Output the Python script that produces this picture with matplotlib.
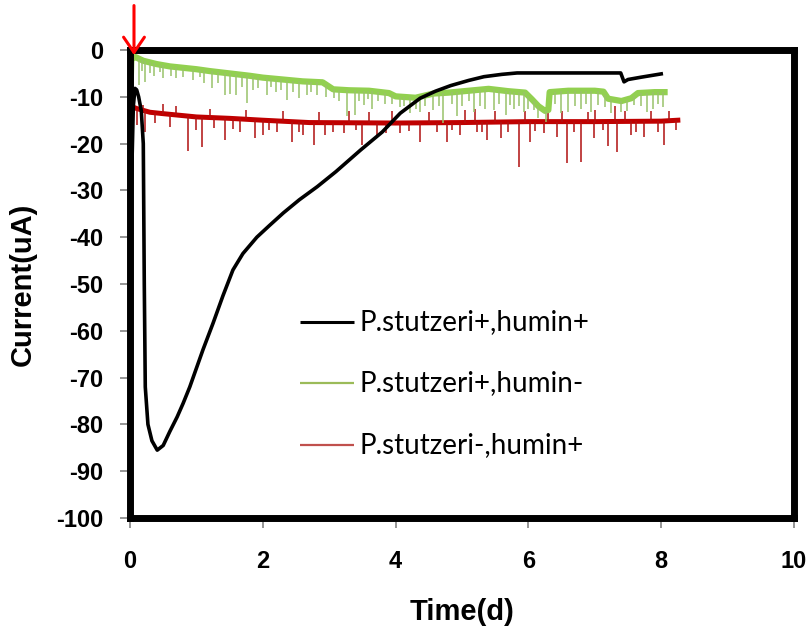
import numpy as np
import matplotlib
matplotlib.use("Agg")
import matplotlib.pyplot as plt

plt.rcParams["axes.unicode_minus"] = False

# --- P.stutzeri+, humin+ (black) ---
t_black = [0.0, 0.02, 0.05, 0.075, 0.1, 0.13, 0.17, 0.2, 0.215, 0.23, 0.27, 0.33,
           0.41, 0.5, 0.6, 0.71, 0.8, 0.9, 1.0, 1.1, 1.25, 1.4, 1.55, 1.7, 1.91,
           2.1, 2.31, 2.55, 2.82, 3.1, 3.47, 3.8, 4.07, 4.37, 4.6, 4.83, 5.1,
           5.33, 5.6, 5.83, 6.5, 7.0, 7.39, 7.44, 7.5, 7.7, 8.0]
i_black = [-49, -30, -12, -8.2, -8.5, -10, -13, -20, -50, -72, -80, -83.5,
           -85.5, -84.5, -81.5, -78.4, -75.5, -72, -68, -64, -58.4, -52.5, -47, -43.5, -40,
           -37.5, -34.8, -32, -29.2, -26.0, -21.4, -17.5, -13.5, -10.3, -8.8, -7.6, -6.5,
           -5.7, -5.2, -4.9, -4.9, -4.9, -4.9, -6.8, -6.3, -5.8, -5.1]

# --- P.stutzeri+, humin- (green): band centre and spikes ---
t_green = [0.0, 0.02, 0.08, 0.2, 0.4, 0.6, 0.8, 1.0, 1.2, 1.5, 1.8, 2.0, 2.3, 2.6,
           2.9, 3.06, 3.3, 3.6, 3.9, 4.0, 4.3, 4.57, 4.8, 5.1, 5.4, 5.7, 5.95, 6.05,
           6.15, 6.25, 6.3, 6.32, 6.6, 7.0, 7.13, 7.2, 7.4, 7.55, 7.65, 7.9, 8.05]
i_green = [-12, -2.0, -1.5, -2.3, -3.0, -3.5, -3.8, -4.1, -4.5, -5.0, -5.5, -5.9, -6.3, -6.7,
           -6.9, -8.4, -8.6, -8.7, -9.2, -9.9, -10.2, -9.3, -9.1, -8.7, -8.3, -8.8, -9.1, -10.5,
           -12.0, -13.0, -12.8, -9.0, -8.7, -8.7, -8.9, -10.4, -10.9, -10.3, -9.2, -9.0, -9.0]
spk_t_green = [0.13, 0.18, 0.23, 0.3, 0.36, 0.45, 0.5, 0.62, 0.7, 0.8, 0.95, 1.05, 1.12,
               1.23, 1.33, 1.43, 1.5, 1.6, 1.68, 1.76, 1.85, 1.93, 2.06, 2.12, 2.2, 2.28,
               2.36, 2.46, 2.54, 2.66, 2.72, 2.82, 2.95, 3.07, 3.15, 3.27, 3.39, 3.45,
               3.52, 3.58, 3.64, 3.74, 3.84, 3.95, 4.07, 4.13, 4.22, 4.3, 4.37, 4.45,
               4.57, 4.65, 4.72, 4.85, 4.92, 5.0, 5.1, 5.18, 5.27, 5.35, 5.48, 5.55,
               5.66, 5.72, 5.78, 5.86, 5.93, 6.0, 6.08, 6.15, 6.26, 6.4, 6.49, 6.59,
               6.7, 6.79, 6.86, 6.94, 7.05, 7.16, 7.25, 7.39, 7.48, 7.59, 7.7, 7.79,
               7.87, 7.95, 8.02]
spk_i_green = [-7.5, -4.5, -6.8, -5.0, -5.5, -4.8, -6.0, -5.5, -6.0, -5.7, -6.5, -5.8, -7.0,
               -8.2, -7.0, -9.6, -9.3, -9.6, -8.0, -11.4, -8.5, -8.2, -9.6, -8.0, -9.0, -8.5,
               -10.7, -9.0, -10.3, -9.6, -9.0, -9.6, -10.0, -10.3, -11.0, -14.2, -13.9, -11.0,
               -11.8, -10.5, -12.5, -11.0, -11.5, -11.5, -12.1, -12.0, -13.5, -12.5, -13.2, -12.0,
               -12.8, -12.0, -15.5, -11.5, -14.2, -12.0, -11.0, -13.2, -12.0, -12.5, -12.8, -11.5,
               -13.9, -11.8, -12.5, -12.0, -13.2, -12.5, -12.8, -14.5, -15.3, -11.5, -13.5, -13.2,
               -12.0, -12.5, -11.5, -13.2, -11.8, -12.1, -13.5, -13.2, -13.0, -11.8, -12.0, -13.2,
               -12.5, -11.5, -12.1]

# --- P.stutzeri-, humin+ (red): band centre and spikes ---
t_red = [0.0, 0.01, 0.1, 0.3, 0.5, 1.0, 1.5, 2.0, 2.7, 4.0, 5.0, 6.0, 7.0, 8.0, 8.25]
i_red = [-48, -12, -12.5, -13.3, -13.6, -14.3, -14.6, -15.0, -15.5, -15.6, -15.5,
         -15.3, -15.3, -15.2, -15.0]
spk_t_red = [0.1, 0.2, 0.23, 0.38, 0.5, 0.6, 0.7, 0.88, 1.0, 1.08, 1.2, 1.26, 1.43, 1.55,
             1.66, 1.75, 1.88, 2.01, 2.1, 2.21, 2.3, 2.44, 2.55, 2.61, 2.77, 2.85, 2.94,
             3.05, 3.22, 3.3, 3.4, 3.49, 3.6, 3.72, 3.85, 3.95, 4.07, 4.2, 4.37, 4.5,
             4.62, 4.77, 4.85, 4.97, 5.05, 5.2, 5.23, 5.3, 5.38, 5.5, 5.58, 5.7, 5.86,
             5.95, 6.03, 6.1, 6.23, 6.3, 6.43, 6.5, 6.58, 6.68, 6.79, 6.9, 6.99, 7.0,
             7.12, 7.2, 7.3, 7.34, 7.45, 7.54, 7.62, 7.74, 7.85, 7.95, 8.04, 8.12, 8.22]
spk_i_red = [-16.0, -11.8, -17.5, -15.7, -11.5, -16.5, -12.0, -21.5, -17.0, -20.7, -12.5,
             -16.7, -19.2, -16.8, -17.5, -12.8, -18.9, -18.2, -17.0, -17.5, -13.0, -19.6,
             -17.5, -18.2, -20.3, -13.3, -18.2, -17.5, -17.8, -13.0, -17.0, -20.3, -13.2,
             -18.9, -17.8, -13.0, -17.8, -17.2, -19.6, -13.3, -17.5, -19.6, -17.0, -18.2,
             -12.8, -12.5, -17.5, -17.5, -19.2, -13.0, -18.9, -17.5, -24.9, -13.0, -19.6,
             -17.2, -17.8, -12.2, -18.5, -13.0, -24.2, -17.5, -23.9, -13.2, -18.9, -12.8,
             -17.0, -20.5, -12.0, -21.7, -13.0, -18.2, -17.5, -18.5, -13.0, -17.5, -20.3,
             -13.0, -17.1]

labels = ["P.stutzeri+,humin+", "P.stutzeri+,humin-", "P.stutzeri-,humin+"]
x_ticks = [0, 2, 4, 6, 8, 10]
y_ticks = [0, -10, -20, -30, -40, -50, -60, -70, -80, -90, -100]

GREEN = "#92D050"
RED = "#C00000"

fig = plt.figure(figsize=(8.08, 6.3), dpi=100)
ax = fig.add_axes([0.1609, 0.1778, 0.8218, 0.7428])

# red series: band plus spikes
ax.plot(t_red, i_red, color=RED, lw=3.6, zorder=2, solid_joinstyle="round")
ax.vlines(spk_t_red, np.interp(spk_t_red, t_red, i_red), spk_i_red,
          color="#B01010", lw=1.1, zorder=2)

# green series: band plus spikes
ax.plot(t_green, i_green, color=GREEN, lw=4.5, zorder=3, solid_joinstyle="round")
ax.vlines(spk_t_green, np.interp(spk_t_green, t_green, i_green), spk_i_green,
          color="#99C26A", lw=1.1, zorder=3)

# black series
ax.plot(t_black, i_black, color="black", lw=2.6, zorder=4, solid_joinstyle="round")

ax.set_xlim(0, 10)
ax.set_ylim(-100, 0)
ax.set_xticks(x_ticks)
ax.set_yticks(y_ticks)

for s in ax.spines.values():
    s.set_linewidth(5)
    s.set_color("black")
    s.set_zorder(5)

ax.tick_params(axis="both", direction="out", length=7, width=1.3, color="#8C8C8C",
               labelsize=17, labelcolor="black")
ax.tick_params(axis="x", pad=16)
ax.tick_params(axis="y", pad=12)
for lab in ax.get_xticklabels() + ax.get_yticklabels():
    lab.set_fontfamily("Liberation Sans")
    lab.set_fontweight("bold")

ax.set_xlabel("Time(d)", fontsize=21, fontweight="bold", family="Liberation Sans", labelpad=18)
ax.set_ylabel("Current(uA)", fontsize=21, fontweight="bold", family="Liberation Sans", labelpad=14)

# injection marker
ax.annotate("", xy=(0.06, -1.1), xytext=(0.06, 9.5), annotation_clip=False,
            arrowprops=dict(arrowstyle="->,head_length=1.1,head_width=0.75",
                            color="#FF0000", lw=2.2, shrinkA=0, shrinkB=0),
            zorder=6)

# legend on a transparent overlay axes covering the plot area
lax = fig.add_axes([0.1609, 0.1778, 0.8218, 0.7428], facecolor="none")
lax.set_axis_off()
lax.set_xlim(0, 1)
lax.set_ylim(0, 1)
legend_colors = ["black", "#9BBB59", "#C0504D"]
legend_widths = [2.2, 1.6, 1.6]
legend_rows = [0.419, 0.288, 0.156]
for col, lw, yy in zip(legend_colors, legend_widths, legend_rows):
    lax.plot([0.256, 0.338], [yy, yy], color=col, lw=lw, solid_capstyle="butt")
for lab, yy in zip(labels, legend_rows):
    lax.text(0.345, yy, lab, va="center", ha="left", fontsize=20, family="Lato")

fig.savefig("out.png", dpi=100)
